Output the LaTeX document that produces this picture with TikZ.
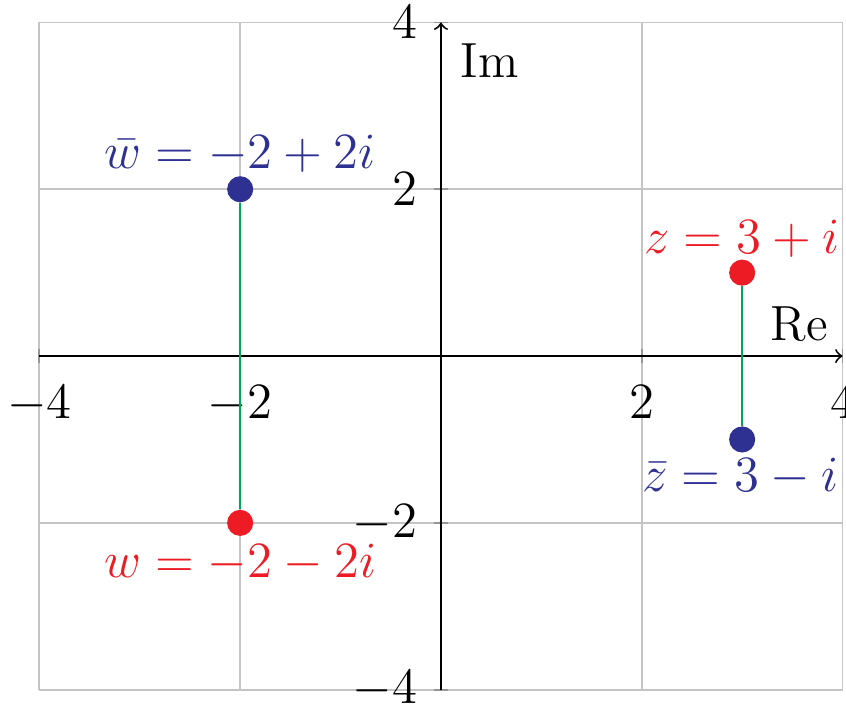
\documentclass[tikz,border=0pt]{standalone}
\usepackage{amsmath}
\definecolor{ptred}{RGB}{237,28,36}
\definecolor{ptblue}{RGB}{46,49,146}
\definecolor{ptgreen}{RGB}{0,166,81}
\definecolor{gridgray}{RGB}{196,196,196}
\definecolor{tickgray}{RGB}{150,150,150}
\begin{document}
\begin{tikzpicture}[x=1cm,y=0.8307cm,
  font=\fontsize{14}{17}\selectfont,
  gridline/.style={gridgray,line width=0.5pt},
  axisline/.style={black,line width=0.55pt,->},
  tickmark/.style={tickgray,line width=0.5pt},
  xticklab/.style={anchor=base,inner sep=0pt},
  yticklab/.style={anchor=east,inner sep=0pt},
  dot/.style={circle,inner sep=0pt,minimum size=0.26cm},
  conj/.style={ptgreen,line width=0.5pt},
  ptlab/.style={anchor=base,inner sep=0pt}]
\useasboundingbox (-4.392,-4.173) rectangle (4.034,4.269);
% grid
\foreach \v in {-4,-2,0,2,4} {
  \draw[gridline] (\v,-4) -- (\v,4);
  \draw[gridline] (-4,\v) -- (4,\v);
}
% ticks
\foreach \v in {-4,-2,2,4} {
  \draw[tickmark] (\v,0) ++(0,-0.07cm) -- ++(0,0.14cm);
  \draw[tickmark] (0,\v) ++(-0.07cm,0) -- ++(0.14cm,0);
}
% axes
\draw[axisline] (-4,0) -- (4,0);
\draw[axisline] (0,-4) -- (0,4);
\node[anchor=base west,inner sep=0pt] (re) at (3.28,0.19) {Re};
\node[anchor=base west,inner sep=0pt] (im) at (0.19,3.345) {Im};
% tick labels
\foreach \v in {-4,-2,2,4} {
  \node[xticklab] (xt\v) at (\v,-0.743) {$\v$};
  \node[yticklab] (yt\v) at (-0.229,\v) {$\v$};
}
% points
\node[dot,fill=ptred] (z) at (3,1) {};
\node[dot,fill=ptblue] (zb) at (3,-1) {};
\node[dot,fill=ptblue] (wb) at (-2,2) {};
\node[dot,fill=ptred] (w) at (-2,-2) {};
\begin{scope}[on background layer/.try]
\end{scope}
\draw[conj] (z) -- (zb);
\draw[conj] (wb) -- (w);
% labels
\node[ptlab,ptred] (zl) at (3.0,1.235) {$z=3+i$};
\node[ptlab,ptblue] (zbl) at (2.98,-1.619) {$\bar z=3-i$};
\node[ptlab,ptblue] (wbl) at (-2.0,2.254) {$\bar w=-2+2i$};
\node[ptlab,ptred] (wl) at (-2.0,-2.65) {$w=-2-2i$};
\end{tikzpicture}
\end{document}
